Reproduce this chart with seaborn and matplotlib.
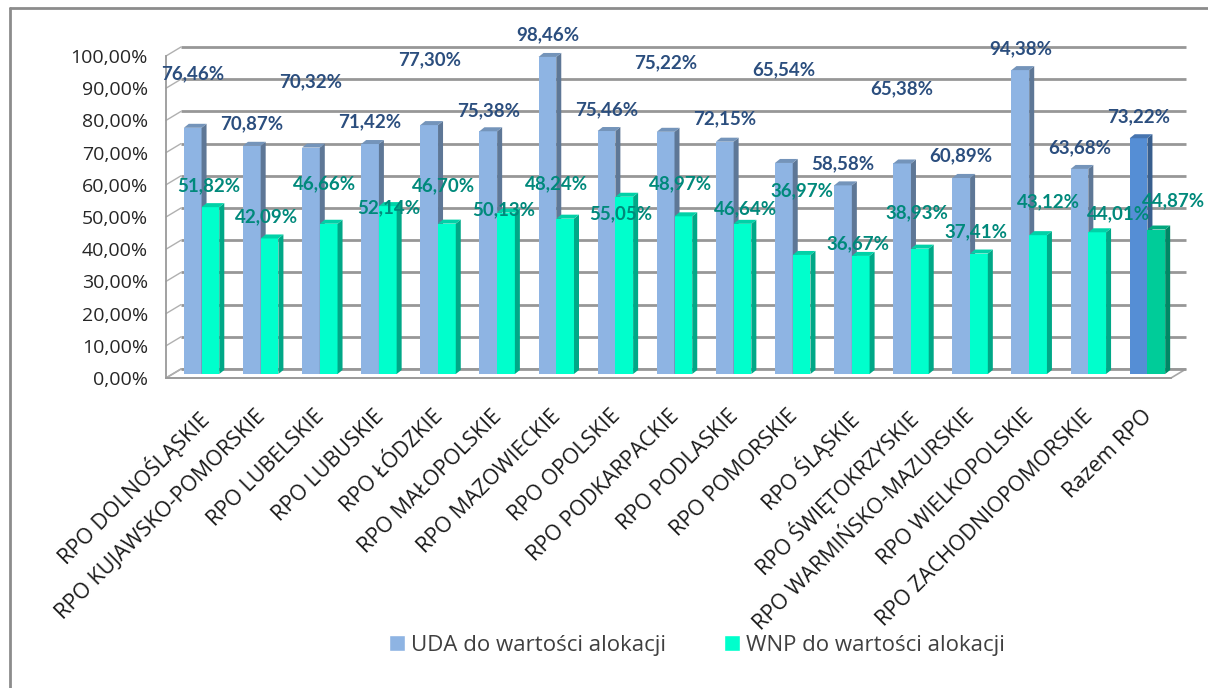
import numpy as np
import pandas as pd
import seaborn as sns
import matplotlib
matplotlib.use("Agg")
import matplotlib.pyplot as plt
import matplotlib.colors as mcolors
from matplotlib.patches import Polygon, Patch
from matplotlib.lines import Line2D
from matplotlib.transforms import offset_copy
from matplotlib.ticker import FuncFormatter

# data
regions = ["RPO DOLNOŚLĄSKIE", "RPO KUJAWSKO-POMORSKIE", "RPO LUBELSKIE", "RPO LUBUSKIE",
           "RPO ŁÓDZKIE", "RPO MAŁOPOLSKIE", "RPO MAZOWIECKIE", "RPO OPOLSKIE",
           "RPO PODKARPACKIE", "RPO PODLASKIE", "RPO POMORSKIE", "RPO ŚLĄSKIE",
           "RPO ŚWIĘTOKRZYSKIE", "RPO WARMIŃSKO-MAZURSKIE", "RPO WIELKOPOLSKIE",
           "RPO ZACHODNIOPOMORSKIE", "Razem RPO"]
uda = [76.46, 70.87, 70.32, 71.42, 77.30, 75.38, 98.46, 75.46, 75.22, 72.15,
       65.54, 58.58, 65.38, 60.89, 94.38, 63.68, 73.22]
wnp = [51.82, 42.09, 46.66, 52.14, 46.70, 50.13, 48.24, 55.05, 48.97, 46.64,
       36.97, 36.67, 38.93, 37.41, 43.12, 44.01, 44.87]
series_names = ["UDA do wartości alokacji", "WNP do wartości alokacji"]

# where the original put its value labels (pixels above / beside the bar top)
uda_lift = [54, 22, 66, 22, 65, 21, 22, 21, 69, 23, 93, 22, 75, 22, 21, 21, 21]
wnp_lift = [21, 22, 40, -2, 38, 3, 35, -17, 33, 15, 64, 12, 36, 22, 33, 19, 29]
wnp_dx = [-2, -3, -4, 1, -3, -2, -9, -3, -3, 3, 0, -3, -3, -3, 10, 21, 17]

uda_c, wnp_c = "#8EB4E3", "#00FFCC"
total_c = ["#558ED5", "#00CC99"]


def shade(c, f):
    r, g, b = mcolors.to_rgb(c)
    return (r * f, g * f, b * f)


def pct(v, pos=None):
    return f"{v:.2f}".replace(".", ",") + "%"


sns.set_style("white")
plt.rcParams["font.family"] = ["Open Sans", "DejaVu Sans"]

df = pd.DataFrame({
    "region": regions * 2,
    "seria": [series_names[0]] * len(regions) + [series_names[1]] * len(regions),
    "value": uda + wnp,
})

fig = plt.figure(figsize=(12.08, 6.88), dpi=100)
ax = fig.add_axes([166 / 1208, 1 - 378 / 688, (1171 - 166) / 1208, 322 / 688])
sns.barplot(data=df, x="region", y="value", hue="seria", palette=[uda_c, wnp_c],
            width=0.6, saturation=1, legend=False, linewidth=0, ax=ax)
ax.set_xlim(-0.5, len(regions) - 0.5)
ax.set_ylim(0, 100)
ax.set_xlabel("")
ax.set_ylabel("")

# pixel -> data units
ux = ax.transData.transform((1, 0))[0] - ax.transData.transform((0, 0))[0]
uy = ax.transData.transform((0, 1))[1] - ax.transData.transform((0, 0))[1]

# back wall and floor
wx, wy = 15 / ux, 9 / uy
x_lo, x_hi = -0.5, len(regions) - 0.5
ax.add_patch(Polygon([(x_lo, 0), (x_hi, 0), (x_hi + wx, wy), (x_lo + wx, wy)],
                     closed=True, facecolor="white", edgecolor="#a6a6a6", lw=1.2,
                     zorder=0.5, clip_on=False))
for v in range(0, 101, 10):
    ax.plot([x_lo + wx, x_hi + wx], [v + wy, v + wy], color="#979797", lw=2,
            zorder=1, clip_on=False, solid_capstyle="butt")
    ax.plot([x_lo, x_lo + wx], [v, v + wy], color="#b0b0b0", lw=1, zorder=1, clip_on=False)

# 3d look for the bars
tr = offset_copy(ax.transData, fig=fig, x=6, y=4, units="dots")
dx, dy = 5 / ux, 4 / uy
labels = [uda, wnp]
lifts = [uda_lift, wnp_lift]
shifts = [[0] * len(regions), wnp_dx]
text_c = ["#2B4E7E", "#00897B"]
for k, cont in enumerate(ax.containers):
    for i, bar in enumerate(cont):
        face = total_c[k] if i == len(regions) - 1 else [uda_c, wnp_c][k]
        z = 3 + k
        bar.set_transform(tr)
        bar.set_facecolor(face)
        bar.set_zorder(z)
        bar.set_clip_on(False)
        x0, w, h = bar.get_x(), bar.get_width(), bar.get_height()
        ax.add_patch(Polygon([(x0 + w, 0), (x0 + w, h), (x0 + w + dx, h + dy), (x0 + w + dx, dy)],
                             closed=True, facecolor=shade(face, 0.66), edgecolor="none",
                             transform=tr, zorder=z, clip_on=False))
        ax.add_patch(Polygon([(x0, h), (x0 + w, h), (x0 + w + dx, h + dy), (x0 + dx, h + dy)],
                             closed=True, facecolor=shade(face, 0.82), edgecolor="none",
                             transform=tr, zorder=z, clip_on=False))
        ax.annotate(pct(labels[k][i]), xy=(x0 + w / 2, h), xycoords=tr,
                    xytext=(shifts[k][i], lifts[k][i]), textcoords="offset pixels",
                    ha="center", va="center", fontsize=13.5, fontweight="bold",
                    family=["Lato", "DejaVu Sans"],
                    color=text_c[k], zorder=6, annotation_clip=False)

# axes
ax.set_yticks(range(0, 101, 10))
ax.yaxis.set_major_formatter(FuncFormatter(pct))
ax.tick_params(axis="y", length=4, color="#8c8c8c", direction="out", pad=9,
               labelsize=14, labelcolor="#262626")
ax.set_xticks(range(len(regions)))
ax.set_xticklabels(regions, rotation=45, ha="right", rotation_mode="anchor")
ax.set_xticks(np.arange(-0.5, len(regions), 1), minor=True)
ax.tick_params(axis="x", which="major", length=0, pad=20, labelsize=15.5, labelcolor="#1a1a1a")
ax.tick_params(axis="x", which="minor", length=5, color="#8c8c8c", direction="out")
for s in ["top", "right"]:
    ax.spines[s].set_visible(False)
for s in ["left", "bottom"]:
    ax.spines[s].set_color("#9a9a9a")
    ax.spines[s].set_linewidth(1.3)
    ax.spines[s].set_zorder(2)
ax.patch.set_alpha(0)

# legend
handles = [Patch(facecolor=uda_c, label=series_names[0]),
           Patch(facecolor=wnp_c, label=series_names[1])]
leg = fig.legend(handles=handles, loc="center", bbox_to_anchor=(0.577, 0.062), ncol=2,
                 frameon=False, fontsize=16, handlelength=0.7, handleheight=0.7,
                 handletextpad=0.3, columnspacing=2.6)
for t in leg.get_texts():
    t.set_color("#404040")

# outer frame of the original chart area
fig.add_artist(Line2D([10 / 1208, 10 / 1208], [0, 1 - 8 / 688], transform=fig.transFigure,
                      color="#8c8c8c", lw=2))
fig.add_artist(Line2D([10 / 1208, 1], [1 - 8 / 688, 1 - 8 / 688], transform=fig.transFigure,
                      color="#8c8c8c", lw=2))

fig.savefig("out.png", dpi=100)
